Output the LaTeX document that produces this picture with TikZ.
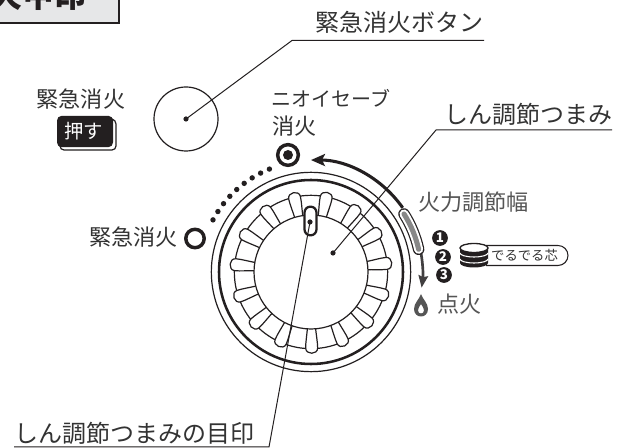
\documentclass[tikz,border=0pt]{standalone}
\usepackage{fontspec}
\usetikzlibrary{arrows.meta}
\setmainfont{Noto Sans CJK JP}
\definecolor{ink}{HTML}{231F20}
\definecolor{txt}{HTML}{333333}
\definecolor{gry}{HTML}{555555}
\definecolor{boxg}{HTML}{E6E7E8}
\newcommand{\fs}[1]{\fontsize{#1}{#1}\selectfont}
\tikzset{
  label22/.style={inner sep=0pt,text=txt,font=\fs{16.6}},
  labelbig/.style={inner sep=0pt,text=txt,font=\fs{18}},
  labelk/.style={inner sep=0pt,text=txt,font=\fs{15}},
  leader/.style={draw=ink,line width=0.75pt},
  thin ring/.style={draw=ink,line width=0.9pt},
  blackdot/.style={circle,fill=ink,inner sep=0pt,minimum size=3.9pt},
  num/.style={circle,fill=ink,inner sep=0pt,minimum size=11.8pt,text=white,font=\fs{10}\bfseries},
}
\begin{document}
\begin{tikzpicture}[x=0.75pt,y=-0.75pt]
\useasboundingbox (0,0) rectangle (622,448);
\clip (0,0) rectangle (622,448);
\fill[white] (0,0) rectangle (622,448);
% title box
\draw[fill=boxg,draw=ink,line width=0.9pt] (-5,-5) rectangle (119,23);
\node[inner sep=0pt,anchor=base west,text=ink,font=\fs{24}\bfseries] (title) at (-10,7.5) {火甲印};
% emergency button
\node[circle,thin ring,minimum size=48pt,inner sep=0pt] (btn) at (186,119) {};
\node[blackdot] (btndot) at (186,119) {};
\node[label22,anchor=base] (bl) at (81,107.5) {緊急消火};
\draw[ink,line width=0.9pt,rounded corners=3pt] (60,147) -- (60,150) -- (116,150) -- (116,120) -- (112,119);
\node[fill=ink,rounded corners=3.5pt,minimum width=42pt,minimum height=23.5pt,inner sep=0pt] (push) at (85,131.5) {};
\node[inner sep=0pt,text=white,font=\fs{14.5}] (pusht) at (84,131) {押す};
\coordinate (lb1) at (292,40.5);
\coordinate (lb2) at (484,40.5);
\node[labelbig,anchor=base] (lbt) at (399.5,32) {緊急消火ボタン};
\draw[leader] (btndot.center) -- (lb1) -- (lb2);
% nioi save
\node[labelk,anchor=base west] (n1) at (271,107) {ニオイセーブ};
\node[label22,anchor=base west] (n2) at (272,135) {消火};
\node[circle,draw=ink,line width=2.6pt,minimum size=15.5pt,inner sep=0pt] (nsym) at (288,155) {};
\node[circle,fill=ink,minimum size=7.5pt,inner sep=0pt] (nsymd) at (288,155) {};
% emergency off left
\node[label22,anchor=base east] (el) at (178,246) {緊急消火};
\node[circle,draw=ink,line width=2.6pt,minimum size=13.8pt,inner sep=0pt] (esym) at (195,238.5) {};
% dots
\foreach \a in {22,27,32,37,42,47,52,57,62}
  \fill[ink] ({311-111*sin(\a)},{272-111*cos(\a)}) circle (2.7);
% arcs
\draw[ink,line width=2.3pt,-{Stealth[length=10.5pt,width=9pt,inset=2.2pt]}] (402.7,207.8) arc[start angle=-35,end angle=-90,radius=112];
\draw[gry!60!ink,line width=2pt,-{Stealth[length=9pt,width=7pt,inset=1pt]}] (421,253) arc[start angle=-10,end angle=8,radius=111];
\draw[ink,line width=8.6pt,line cap=round] (404,214) arc[start angle=-32.5,end angle=-12.5,radius=110];
\draw[white,line width=6.8pt,line cap=round] (404,214) arc[start angle=-32.5,end angle=-12.5,radius=110];
\draw[gry!70,line width=3.8pt,line cap=round] (404,214) arc[start angle=-32.5,end angle=-12.5,radius=110];
% dial
\node[circle,thin ring,minimum size=149.5pt,inner sep=0pt] (outer) at (311,272) {};
\node[circle,draw=ink,line width=1.9pt,minimum size=138pt,inner sep=0pt] (thick) at (311,272) {};
\node[circle,thin ring,minimum size=115pt,inner sep=0pt] (ring) at (311,272) {};
\foreach \a in {11.5,35.5,...,347.5}{
  \begin{scope}[shift={(311,272)},rotate=-\a]
    \draw[thin ring,fill=white] (-4,-55) .. controls (-4.6,-63) and (-6,-70) .. (-6,-76) .. controls (-6,-83) and (6,-83) .. (6,-76) .. controls (6,-70) and (4.6,-63) .. (4,-55);
  \end{scope}
}
\node[circle,thin ring,fill=white,minimum size=85.5pt,inner sep=0pt] (knob) at (311,272) {};
\node[draw=ink,fill=white,line width=1.7pt,rounded corners=4.4pt,minimum width=9pt,minimum height=21.5pt,inner sep=0pt] (mark) at (310.5,221) {};
\node[blackdot] (markd) at (310,222) {};
\node[blackdot] (knobd) at (333,253) {};
% knob leader
\coordinate (lk1) at (436,130);
\coordinate (lk2) at (612,130);
\node[labelbig,anchor=base] (lkt) at (528.5,124) {しん調節つまみ};
\draw[leader] (knobd.center) -- (lk1) -- (lk2);
\coordinate (lm1) at (269,447);
\coordinate (lm2) at (14,447);
\node[inner sep=0pt,text=txt,font=\fs{18},anchor=base] (lmt) at (135,443) {しん調節つまみの目印};
\draw[leader] (markd.center) -- (lm1) -- (lm2);
% right labels
\node[label22,anchor=base west,text=gry] (fire) at (418,211) {火力調節幅};
\node[num] (n1c) at (440,238) {1};
\node[num] (n2c) at (443,257) {2};
\node[num] (n3c) at (444,275) {3};
% wick tag
\draw[ink,line width=0.8pt] (486,245.5) -- (558,245.5) arc[start angle=-90,end angle=90,radius=10] -- (486,265.5);
\node[inner sep=0pt,text=txt,font=\fs{10}] (deru) at (524.5,255.5) {でるでる芯};
% coil
\fill[ink] (460,248) -- (460,263) arc[start angle=180,end angle=0,x radius=14,y radius=4.5] -- (488,248) -- cycle;
\draw[white,line width=0.8pt] (460,253) arc[start angle=180,end angle=0,x radius=14,y radius=4];
\draw[white,line width=0.8pt] (460,259) arc[start angle=180,end angle=0,x radius=14,y radius=4];
\draw[ink,fill=white,line width=1pt] (474,248) ellipse (14 and 4.5);
% flame
\fill[gry,even odd rule] (421,294) .. controls (423,300) and (428,303) .. (428,309) .. controls (428,319) and (414,319) .. (414,309) .. controls (414,303) and (419,300) .. (421,294) -- cycle
 (421,304) .. controls (419,307) and (418,309) .. (418,310.5) .. controls (418,314.5) and (424,314.5) .. (424,310.5) .. controls (424,309) and (423,307) .. (421,304) -- cycle;
\node[label22,anchor=base west,text=gry] (ignite) at (437,313) {点火};
\end{tikzpicture}
\end{document}
